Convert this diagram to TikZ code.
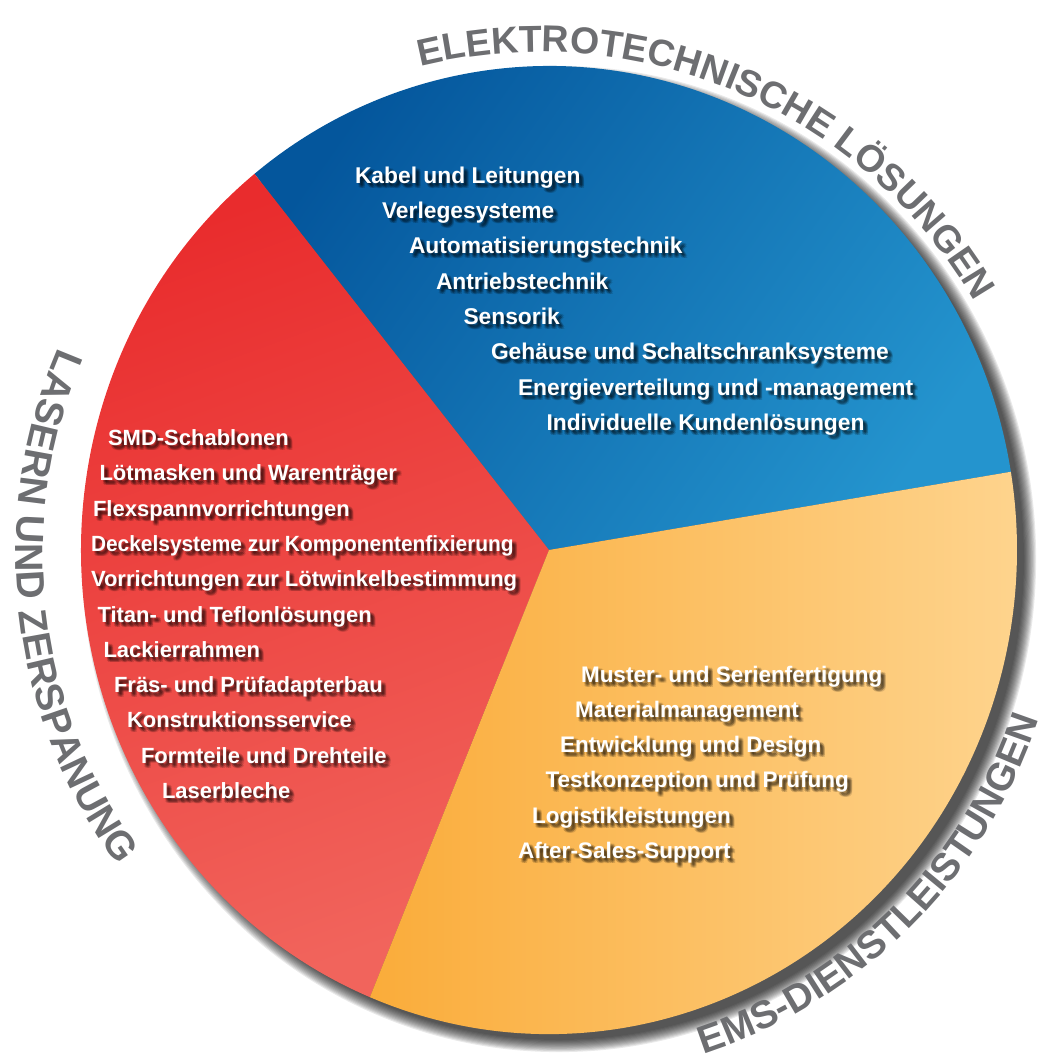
\documentclass[tikz,border=0pt]{standalone}
\usepackage{fontspec}
\usepackage{graphicx}
\setmainfont{Liberation Sans}
\usetikzlibrary{decorations.text}
\definecolor{blueA}{RGB}{4,86,156}
\definecolor{blueB}{RGB}{36,148,206}
\definecolor{redA}{RGB}{233,44,45}
\definecolor{redB}{RGB}{241,100,92}
\definecolor{orA}{RGB}{250,172,58}
\definecolor{orB}{RGB}{254,212,142}
\definecolor{ringgray}{RGB}{109,110,113}
\tikzset{
  itemtext/.style={text=white, font=\bfseries\fontsize{\itemsize}{24}\selectfont, anchor=base west, inner sep=0pt, outer sep=0pt},
  itemshadow/.style={itemtext, text=black, text opacity=0.13},
}
\def\itemsize{22}
\newcommand\shadowitem[4]{%
  \foreach \ox/\oy in {2/2,3/3,4/4,2/4,4/2,5/5,3/5,5/3} {\node[itemshadow] at (#2+\ox,#3+\oy) {#4};}
  \node[itemtext] (#1) at (#2,#3) {#4};
}
\newcommand\ringfont[1]{\fontsize{#1}{#1}\selectfont\bfseries\color{ringgray}}
\begin{document}
\begin{tikzpicture}[x=1pt,y=-1pt]
\useasboundingbox (0,0) rectangle (1048,1059);
% shadow
\begin{scope}[shift={(549,550)}]
\foreach \i in {0,...,11} {\fill[black,opacity=0.085] (10,9) ellipse[x radius=468+\i*1.1-3, y radius=484+\i*1.1-3];}
% sectors
\shade[top color=blueA, bottom color=blueB, shading angle=55]
  (0,0) -- (-9.3:468 and 484) arc[start angle=-9.3, end angle=-129, x radius=468, y radius=484] -- cycle;
\shade[top color=redA, bottom color=redB, shading angle=20]
  (0,0) -- (-129:468 and 484) arc[start angle=-129, end angle=-247.5, x radius=468, y radius=484] -- cycle;
\shade[left color=orA, middle color=orA, right color=orB]
  (0,0) -- (-247.5:468 and 484) arc[start angle=-247.5, end angle=-369.3, x radius=468, y radius=484] -- cycle;
\end{scope}
% ring texts
\begin{scope}[shift={(540,555)}]
\path[decorate, decoration={text along path, text align=center,
  text={|\ringfont{37.5}|ELEKTROTECHNISCHE LÖSUNGEN}}]
  (-107:503) arc[start angle=-107, end angle=-27, radius=503];
\path[decorate, decoration={text along path, text align=center,
  text={|\ringfont{39.5}|LASERN UND ZERSPANUNG}}]
  (-146:524) arc[start angle=-146, end angle=-227, radius=524];
\path[decorate, decoration={text along path, text align=center,
  text={|\ringfont{39}|EMS-DIENSTLEISTUNGEN}}]
  (79:525) arc[start angle=79, end angle=11, radius=525];
\end{scope}
% blue items
\def\itemsize{22.8}
\shadowitem{b1}{355}{183.3}{Kabel und Leitungen}
\shadowitem{b2}{382}{218.6}{Verlegesysteme}
\shadowitem{b3}{409}{253.9}{Automatisierungstechnik}
\shadowitem{b4}{436}{289.2}{Antriebstechnik}
\shadowitem{b5}{463.5}{324.5}{Sensorik}
\shadowitem{b6}{491}{359.8}{Gehäuse und Schaltschranksysteme}
\shadowitem{b7}{518}{395.1}{Energieverteilung und -management}
\shadowitem{b8}{546.5}{430.4}{Individuelle Kundenlösungen}
% red items
\def\itemsize{22}
\shadowitem{r1}{108}{445.5}{SMD-Schablonen}
\shadowitem{r2}{99.5}{480.8}{Lötmasken und Warenträger}
\shadowitem{r3}{93}{516.1}{Flexspannvorrichtungen}
\shadowitem{r4}{91}{551.4}{\scalebox{0.95}[1]{Deckelsysteme zur Komponentenfixierung}}
\shadowitem{r5}{91}{586.7}{Vorrichtungen zur Lötwinkelbestimmung}
\shadowitem{r6}{97.5}{622}{Titan- und Teflonlösungen}
\shadowitem{r7}{103.5}{657.3}{Lackierrahmen}
\shadowitem{r8}{114}{692.6}{Fräs- und Prüfadapterbau}
\shadowitem{r9}{127}{727.9}{Konstruktionsservice}
\shadowitem{r10}{141}{763.2}{Formteile und Drehteile}
\shadowitem{r11}{162}{798.5}{Laserbleche}
% orange items
\def\itemsize{22.5}
\shadowitem{o1}{581}{682}{Muster- und Serienfertigung}
\shadowitem{o2}{575}{717.3}{Materialmanagement}
\shadowitem{o3}{560}{752.6}{Entwicklung und Design}
\shadowitem{o4}{545.5}{787.9}{Testkonzeption und Prüfung}
\shadowitem{o5}{532}{823.2}{Logistikleistungen}
\shadowitem{o6}{518}{858.5}{After-Sales-Support}
\end{tikzpicture}
\end{document}
